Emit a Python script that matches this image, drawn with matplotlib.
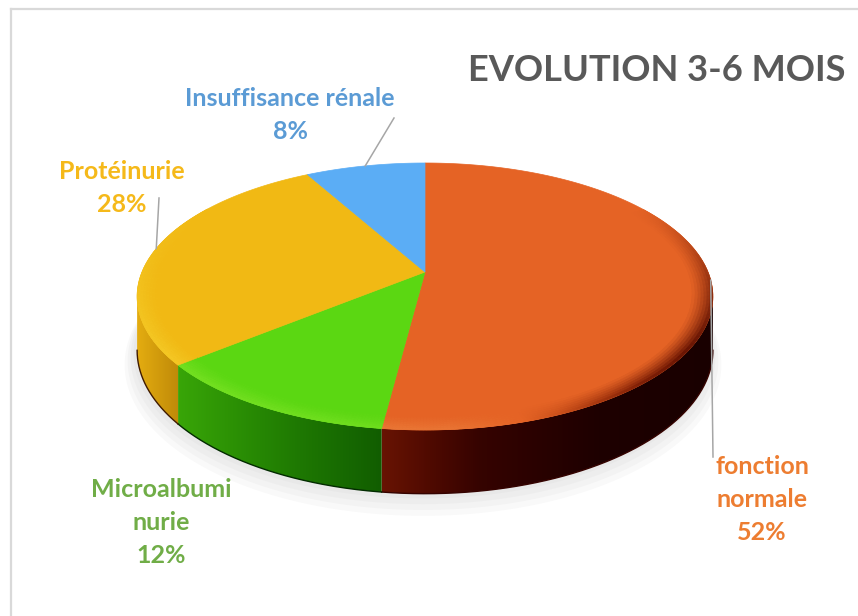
import numpy as np
import matplotlib.pyplot as plt
from matplotlib.patches import Polygon
from matplotlib.colors import to_rgb

# Data (clockwise from 12 o'clock)
labels = ["fonction normale", "Microalbuminurie", "Protéinurie", "Insuffisance rénale"]
values = [52, 12, 28, 8]
pct_text = ["52%", "12%", "28%", "8%"]
label_lines = [["fonction", "normale"], ["Microalbumi", "nurie"], ["Protéinurie"], ["Insuffisance rénale"]]
slice_colors = ["#E56325", "#5BD712", "#F1B914", "#5BADF5"]
label_colors = ["#ED7D31", "#70AD47", "#F5B91A", "#5B9BD5"]
title = "EVOLUTION 3-6 MOIS"

# label placement (pixels): centre x, first baseline y
label_pos = [(762, 474), (161, 497), (122, 179), (290, 106)]
line_step = 33
leader_end = [(713, 457), None, (159, 198), (394, 118)]

W, Hpx = 858, 616
fig = plt.figure(figsize=(W / 100, Hpx / 100), dpi=100)
ax = fig.add_axes([0, 0, 1, 1])

# perspective ellipse geometry
cx, cy = 425, 272
A, B, K = 283, 129, 0.1835
DEPTH = 52


def proj(phi, drop=0.0, r=1.0):
    u = r * np.cos(phi)
    v = r * np.sin(phi)
    w = 1 + K * v
    return cx + A * u / w, cy - B * v / w + drop / w


def side_shade(x):
    return np.interp(x, [137, 180, 300, 375, 480, 600, 713],
                     [0.95, 0.8, 0.62, 0.52, 0.3, 0.2, 0.18])


def bevel_shade(x):
    return np.interp(x, [137, 450, 560, 640, 713], [1.3, 1.2, 0.9, 0.6, 0.45])


def shade(base, g):
    base = np.clip(np.array(base), 1e-4, 1)
    g = np.atleast_1d(np.asarray(g, dtype=float))[:, None]
    out = np.where(g >= 1, base[None, :] ** (1 / g), base[None, :] ** (1 / g) * g)
    out = np.clip(out, 0, 1)
    return out[0] if out.shape[0] == 1 else out


total = float(sum(values))
cum = np.concatenate([[0], np.cumsum(values)]) / total * 2 * np.pi
starts = np.pi / 2 - cum[:-1]
ends = np.pi / 2 - cum[1:]

# shadow under the pie
phis = np.linspace(-np.pi, np.pi, 400)
for r, dd in [(1.035, 12), (1.025, 9), (1.015, 6), (1.005, 3)]:
    xs, ys = proj(phis, DEPTH + dd, r)
    ax.add_patch(Polygon(np.column_stack([xs - 2, ys]), closed=True,
                         facecolor="#9a9a9a", edgecolor="none", alpha=0.06, zorder=1))

# side walls (only the visible front), gradient image clipped to each wall
vis_lo = -np.pi + np.arcsin(K)
vis_hi = -np.arcsin(K)
xcols = np.arange(W) + 0.5
for s, e, col in zip(starts, ends, slice_colors):
    base = to_rgb(col)
    for off in [0, -2 * np.pi, 2 * np.pi]:
        hi = min(s + off, vis_hi)
        lo = max(e + off, vis_lo)
        if hi <= lo:
            continue
        ph = np.linspace(hi, lo, 200)
        tx, ty = proj(ph)
        bx, by = proj(ph[::-1], DEPTH)
        wall = Polygon(np.column_stack([np.r_[tx, bx], np.r_[ty, by]]), closed=True,
                       facecolor="none", edgecolor="none")
        ax.add_patch(wall)
        grad = shade(base, side_shade(xcols))[None, :, :]
        im = ax.imshow(grad, extent=[0, W, Hpx, 0], aspect="auto",
                       interpolation="bilinear", zorder=2)
        im.set_clip_path(wall)
        # darker edge along the bottom of the wall
        ax.plot(bx, by, color=shade(base, 0.3), lw=1.0, zorder=2.5)

# top faces
for s, e, col in zip(starts, ends, slice_colors):
    ph = np.linspace(s, e, 300)
    xs, ys = proj(ph)
    pts = np.vstack([[cx, cy], np.column_stack([xs, ys])])
    ax.add_patch(Polygon(pts, closed=True, facecolor=col, edgecolor=col, lw=0.5, zorder=3))

# bevel along the rim
radii = np.linspace(0.93, 1.0, 8)
for s, e, col in zip(starts, ends, slice_colors):
    base = np.array(to_rgb(col))
    n = max(int((s - e) / 0.01), 2)
    ph = np.linspace(s, e, n + 1)
    for a0, a1 in zip(ph[:-1], ph[1:]):
        am = (a0 + a1) / 2
        strength = np.clip(0.5 - 0.9 * np.sin(am), 0, 1)
        if strength <= 0.02:
            continue
        xm, _ = proj(am)
        tgt = shade(base, bevel_shade(xm))
        for j, (r0, r1) in enumerate(zip(radii[:-1], radii[1:])):
            t = ((j + 1) / (len(radii) - 1)) ** 1.3 * strength
            c = base * (1 - t) + tgt * t
            p0 = proj(a0, 0, r0)
            p1 = proj(a1, 0, r0)
            p2 = proj(a1, 0, r1)
            p3 = proj(a0, 0, r1)
            ax.add_patch(Polygon([p0, p1, p2, p3], closed=True,
                                 facecolor=c, edgecolor=c, lw=0.4, zorder=4))

# leader lines
for s, e, end in zip(starts, ends, leader_end):
    if end is None:
        continue
    mx, my = proj((s + e) / 2)
    ax.plot([mx, end[0]], [my, end[1]], color="#A6A6A6", lw=1.1, zorder=5)

# data labels
fam = ["Lato", "DejaVu Sans"]
for lines, pct, col, (lx, ly) in zip(label_lines, pct_text, label_colors, label_pos):
    for k, t in enumerate(lines + [pct]):
        ax.text(lx, ly + k * line_step, t, color=col, fontsize=18, fontweight="bold",
                family=fam, ha="center", va="baseline", zorder=6)

# title, sized to the reference width
ttl = ax.text(845, 81, title, color="#595959", fontsize=28, fontweight="bold",
              family=fam, ha="right", va="baseline", zorder=6)

# chart frame (left and top edges visible)
ax.plot([11, 11], [Hpx, 9], color="#D9D9D9", lw=1.6, zorder=0)
ax.plot([11, W], [9, 9], color="#D9D9D9", lw=1.6, zorder=0)

ax.set_xlim(0, W)
ax.set_ylim(Hpx, 0)
ax.axis("off")

fig.canvas.draw()
tw = ttl.get_window_extent().width
ttl.set_fontsize(28 * 378 / tw)

fig.savefig("out.png", dpi=100)
